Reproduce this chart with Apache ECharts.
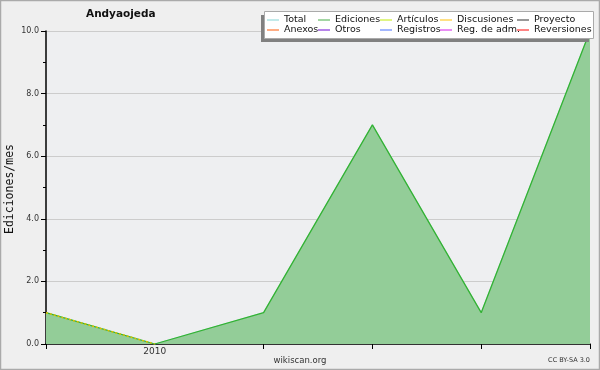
<!DOCTYPE html>
<html><head><meta charset="utf-8">
<script src="https://cdn.jsdelivr.net/npm/echarts@6/dist/echarts.min.js"></script>
<style>html,body{margin:0;padding:0;background:#efefef}#c{width:600px;height:370px}</style>
</head><body><div id="c"></div>
<script>
var months = ['2009-12','2010-01','2010-02','2010-03','2010-04','2010-05'];
var xTickLabels = ['', '2010', '', '', '', ''];
var ediciones = [1, 0, 1, 7, 1, 10];
var total = [1, 0, 1, 7, 1, 10];
var discusiones = [1, 0, null, null, null, null];
var yAxisTitle = 'Ediciones/mes';
var legendNames = ['Total','Ediciones','Artículos','Discusiones','Proyecto','Anexos','Otros','Registros','Reg. de adm.','Reversiones'];
var legendColors = ['#99dddd','#66bb66','#ccee33','#ffcc33','#555555','#ff7733','#8833dd','#6688ff','#dd44ee','#ff3333'];

var chart = echarts.init(document.getElementById('c'), null, {renderer:'canvas'});
var seriesData = {'Total': total, 'Ediciones': ediciones, 'Discusiones': discusiones};
var series = legendNames.map(function(n, i){
  var s = {name:n, type:'line', data: seriesData[n] || [], symbol:'none', color: legendColors[i],
    lineStyle:{width:1, color: legendColors[i]}, z: 2, silent:true, animation:false};
  if (n === 'Ediciones') { s.lineStyle = {width:1.3, color:'#33b233'}; s.areaStyle = {color:'#93cd98', opacity:1}; s.z = 3; }
  if (n === 'Total') { s.z = 1; }
  if (n === 'Discusiones') { s.lineStyle = {width:1.5, color:'#e0c000', type:[2,2]}; s.z = 4; }
  return s;
});
var colX = [267, 318, 380, 440, 517];
var legends = [];
for (var c = 0; c < 5; c++) {
  legends.push({orient:'vertical', left: colX[c], top: 15, itemGap: 0, itemWidth: 12, itemHeight: 1.2,
    icon:'rect', padding: 0, selectedMode:false, z:20,
    data:[legendNames[c], legendNames[c+5]],
    textStyle:{fontFamily:'DejaVu Sans', fontSize:9.5, color:'#111', padding:[0,0,0,0], lineHeight:10}});
}
chart.setOption({
  animation:false,
  backgroundColor:'#efefef',
  title:{text:'Andyaojeda', left: 81, top: 4, textStyle:{fontFamily:'DejaVu Sans', fontSize:10.5, fontWeight:'bold', color:'#111'}},
  graphic:[
    {type:'rect', shape:{x:0.5,y:0.5,width:599,height:369}, style:{fill:null, stroke:'#aaaaaa', lineWidth:1.5}, z:100},
    {type:'rect', shape:{x:261,y:15,width:328,height:27}, style:{fill:'#808080'}, z:9},
    {type:'rect', shape:{x:264.5,y:11.5,width:329,height:27}, style:{fill:'#ffffff', stroke:'#aaaaaa', lineWidth:1}, z:10},
    {type:'text', x:300, y:356, style:{text:'wikiscan.org', align:'center', fontFamily:'DejaVu Sans', fontSize:8.5, fill:'#333'}},
    {type:'text', right:10, top:357, style:{text:'CC BY-SA 3.0', fontFamily:'DejaVu Sans', fontSize:6.5, fill:'#333'}},
    {type:'text', x:10, y:189, rotation:Math.PI/2, style:{text:yAxisTitle, align:'center', verticalAlign:'middle', fontFamily:'DejaVu Sans Mono', fontSize:11.5, fill:'#111'}}
  ],
  legend: legends,
  grid:{left:46, right:10, top:31, bottom:26, show:true, backgroundColor:'#eeeff1', borderWidth:0, outerBoundsMode:'none', containLabel:false},
  xAxis:{type:'category', data:months, boundaryGap:false,
    axisLine:{lineStyle:{color:'#000', width:1.5}},
    axisTick:{length:5, lineStyle:{color:'#000'}, interval:function(i){return i!==1;}},
    axisLabel:{interval:0, formatter:function(v,i){return xTickLabels[i];}, fontFamily:'DejaVu Sans', fontSize:9, color:'#333', margin:3},
    splitLine:{show:false}},
  yAxis:{type:'value', min:0, max:10, interval:2,
    axisLine:{show:true, lineStyle:{color:'#000', width:1.5}},
    axisTick:{show:true, length:5, lineStyle:{color:'#000'}},
    minorTick:{show:true, splitNumber:2, length:3, lineStyle:{color:'#000'}},
    axisLabel:{formatter:function(v){return v.toFixed(1);}, fontFamily:'DejaVu Sans', fontSize:8, color:'#333', margin:7},
    splitLine:{show:true, lineStyle:{color:'#cccccc', width:1}}},
  series: series
});
</script></body></html>
